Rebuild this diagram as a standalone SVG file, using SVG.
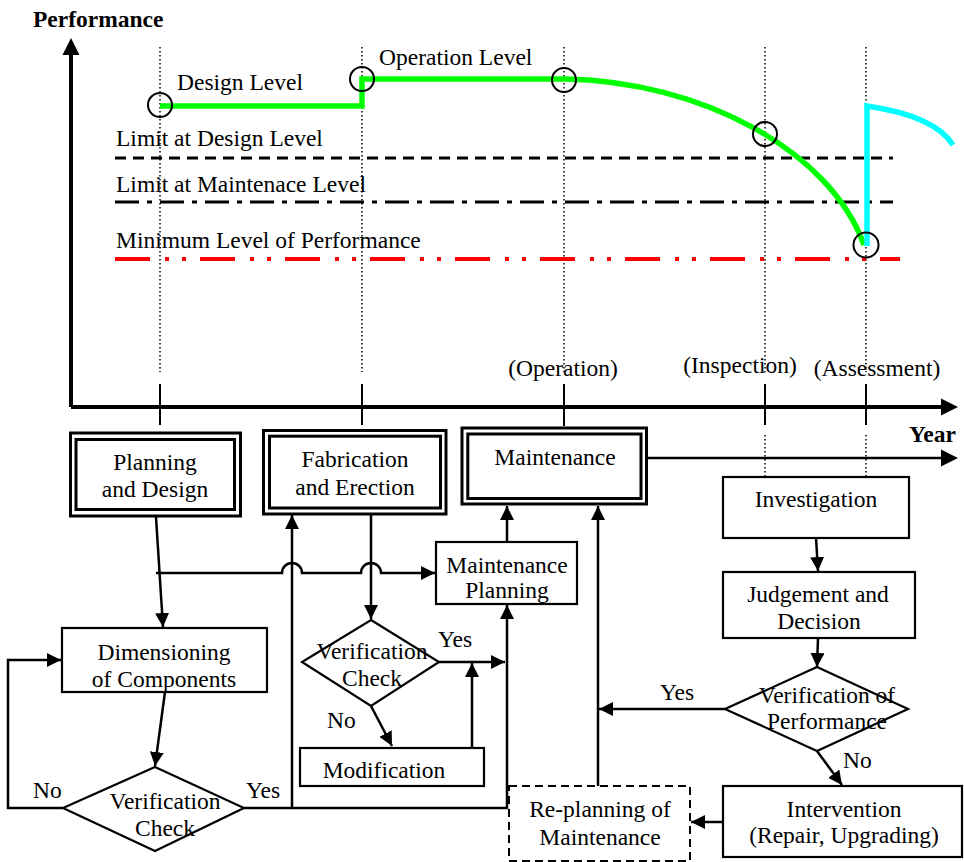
<svg xmlns="http://www.w3.org/2000/svg" width="964" height="862" viewBox="0 0 964 862">
<defs>
<marker id="ah" markerUnits="userSpaceOnUse" markerWidth="15" markerHeight="15" refX="14" refY="7" orient="auto"><path d="M0,0 L14,7 L0,14 z" fill="#000"/></marker>
</defs>
<style>
text{font-family:"Liberation Serif","Times New Roman",serif;font-size:23.5px;fill:#000}
.b{font-weight:bold}
.m{text-anchor:middle}
.box{fill:#fff;stroke:#000;stroke-width:2.2}
.dash{fill:#fff;stroke:#000;stroke-width:2;stroke-dasharray:8 5}
.dbl{fill:#fff;stroke:#000;stroke-width:3}
.dbi{fill:none;stroke:#000;stroke-width:3}
.ln{fill:none;stroke:#000;stroke-width:2.5}
.arr{marker-end:url(#ah)}
.dot{fill:none;stroke:#000;stroke-width:1.5;stroke-dasharray:1.5 2.5}
.tick{fill:none;stroke:#000;stroke-width:2}
.ring{fill:none;stroke:#000;stroke-width:2}
</style>

<g id="chart">
  <g id="grid">
    <path class="dot" d="M160,47 V372 M362,47 V372 M564,47 V372 M765,47 V372 M866,47 V372 M765,435 V477 M866,435 V477"/>
    <path class="tick" d="M160,384 V425 M362,384 V425 M564,384 V426 M765,384 V425 M866,384 V425"/>
  </g>
  <g id="limits">
    <path d="M115,158 H893" stroke="#000" stroke-width="3" stroke-dasharray="11 7" fill="none"/>
    <path d="M115,202 H893" stroke="#000" stroke-width="3" stroke-dasharray="24 8 5 8" fill="none"/>
    <path d="M115,259 H900" stroke="#ff0000" stroke-width="4" stroke-dasharray="35 15 4 13 4 14" fill="none"/>
  </g>
  <g id="curves">
    <path d="M160,106 H362 V79 H564 C700,81 830,150 864,245" fill="none" stroke="#00ff00" stroke-width="5.5"/>
    <path d="M867,246 V106 Q935,116 953,145" fill="none" stroke="#00ffff" stroke-width="5.5"/>
  </g>
  <g id="markers">
    <circle class="ring" cx="160" cy="105" r="12"/>
    <circle class="ring" cx="362" cy="79" r="12"/>
    <circle class="ring" cx="564" cy="80" r="12"/>
    <circle class="ring" cx="765" cy="134" r="12"/>
    <circle class="ring" cx="866" cy="245" r="12.5"/>
  </g>
  <g id="axes">
    <path d="M71,407 V52 M71,407 H944" fill="none" stroke="#000" stroke-width="4"/>
    <polygon points="71,38 62.5,55 79.5,55"/>
    <polygon points="958,407 941,398.5 941,415.5"/>
  </g>
  <g id="chart-labels">
    <text class="b" x="33" y="27">Performance</text>
    <text class="b" x="909" y="442">Year</text>
    <text x="177" y="90">Design Level</text>
    <text x="379" y="65">Operation Level</text>
    <text x="116" y="146">Limit at Design Level</text>
    <text x="116" y="192">Limit at Maintenace Level</text>
    <text x="116" y="248">Minimum Level of Performance</text>
    <text class="m" x="563" y="376">(Operation)</text>
    <text class="m" x="740" y="373">(Inspection)</text>
    <text class="m" x="877" y="376">(Assessment)</text>
  </g>
</g>

<g id="connectors">
  <path class="ln arr" d="M156,517 L163,627"/>
  <path class="ln arr" d="M165,692 L155,766"/>
  <path class="ln arr" d="M63,808 H8 V660 H61"/>
  <path class="ln arr" d="M244,808 H507 V605"/>
  <path class="ln arr" d="M292,808 V515"/>
  <path class="ln arr" d="M156,573 H282 A10,10 0 0 1 302,573 H361 A10,10 0 0 1 381,573 H435"/>
  <path class="ln arr" d="M371,514 V619"/>
  <path class="ln arr" d="M439,662 H505"/>
  <path class="ln arr" d="M472,748 V663"/>
  <path class="ln arr" d="M371,706 L392,746"/>
  <path class="ln arr" d="M507,542 V506"/>
  <path class="ln arr" d="M598,786 V506"/>
  <path class="ln" d="M647,458 H944"/>
  <polygon points="958,458 941,449.5 941,466.5"/>
  <path class="ln arr" d="M816,538 L818,571"/>
  <path class="ln arr" d="M818,638 L817,667"/>
  <path class="ln arr" d="M725,709 H599"/>
  <path class="ln arr" d="M817,751 L842,785"/>
  <path class="ln arr" d="M723,822 H691"/>
</g>

<g id="planning-design">
  <rect class="dbl" x="70.5" y="433" width="170" height="83"/>
  <rect class="dbi" x="76" y="439.5" width="158.5" height="70"/>
  <text class="m" x="155" y="470">Planning</text>
  <text class="m" x="155" y="497">and Design</text>
</g>
<g id="fabrication-erection">
  <rect class="dbl" x="263.5" y="430.5" width="182.5" height="83.5"/>
  <rect class="dbi" x="269.5" y="436.2" width="171" height="71.8"/>
  <text class="m" x="355" y="467">Fabrication</text>
  <text class="m" x="355" y="495">and Erection</text>
</g>
<g id="maintenance">
  <rect class="dbl" x="462" y="428" width="184.5" height="76"/>
  <rect class="dbi" x="467.8" y="434" width="173.2" height="64.5"/>
  <text class="m" x="555" y="465">Maintenance</text>
</g>
<g id="maintenance-planning">
  <rect class="box" x="436" y="542" width="141" height="62"/>
  <text class="m" x="507" y="573">Maintenance</text>
  <text class="m" x="507" y="598">Planning</text>
</g>
<g id="dimensioning">
  <rect class="box" x="62" y="628" width="205" height="64"/>
  <text class="m" x="164" y="660">Dimensioning</text>
  <text class="m" x="164" y="687">of Components</text>
</g>
<g id="verification-check-1">
  <polygon class="box" points="155,767 244,808 155,851 63,808"/>
  <text class="m" x="165" y="809">Verification</text>
  <text class="m" x="165" y="836">Check</text>
  <text x="33" y="798">No</text>
  <text x="246" y="798">Yes</text>
</g>
<g id="verification-check-2">
  <polygon class="box" points="371,620 439,662 371,706 302,662"/>
  <text class="m" x="372" y="659">Verification</text>
  <text class="m" x="372" y="686">Check</text>
  <text x="438" y="647">Yes</text>
  <text x="327" y="728">No</text>
</g>
<g id="modification">
  <rect class="box" x="300" y="748" width="184" height="38"/>
  <text class="m" x="384" y="778">Modification</text>
</g>
<g id="investigation">
  <rect class="box" x="723" y="477" width="186" height="61"/>
  <text class="m" x="816" y="507">Investigation</text>
</g>
<g id="judgement-decision">
  <rect class="box" x="723" y="572" width="192" height="66"/>
  <text class="m" x="818" y="602">Judgement and</text>
  <text class="m" x="819" y="629">Decision</text>
</g>
<g id="verification-performance">
  <polygon class="box" points="817,667 908,709 817,751 725,709"/>
  <text class="m" x="827" y="703">Verification of</text>
  <text class="m" x="827" y="729">Performance</text>
  <text x="660" y="700">Yes</text>
  <text x="843" y="768">No</text>
</g>
<g id="intervention">
  <rect class="box" x="723" y="786" width="239" height="71"/>
  <text class="m" x="844" y="817">Intervention</text>
  <text class="m" x="844" y="843">(Repair, Upgrading)</text>
</g>
<g id="replanning">
  <rect class="dash" x="509" y="786" width="181" height="75"/>
  <text class="m" x="600" y="817">Re-planning of</text>
  <text class="m" x="600" y="845">Maintenance</text>
</g>
</svg>
